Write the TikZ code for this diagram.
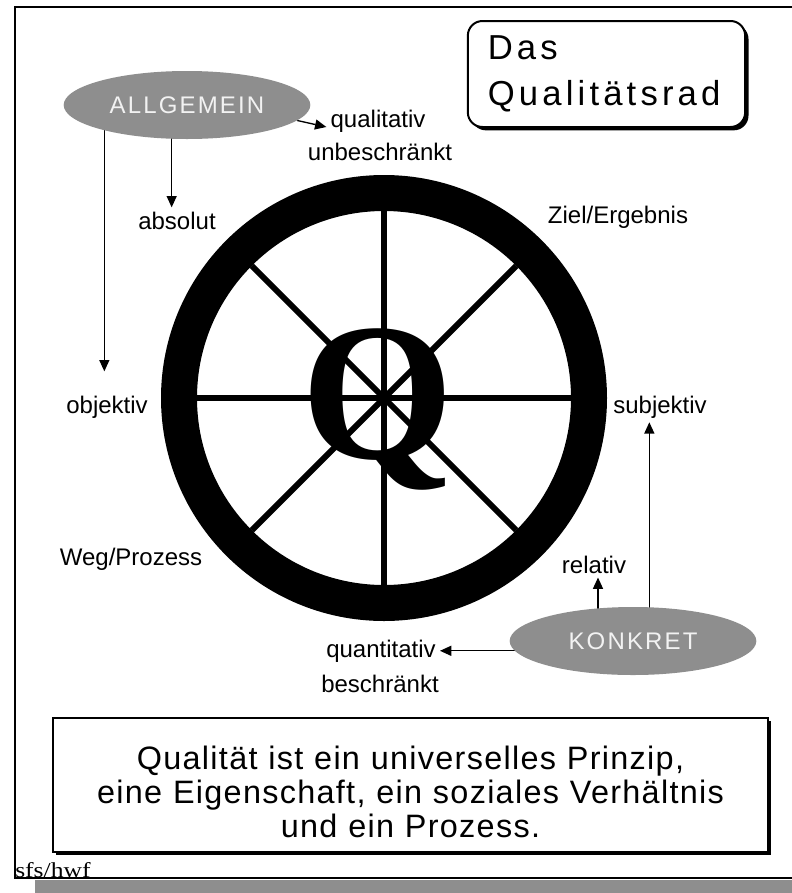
\documentclass[tikz,border=0pt]{standalone}
\usepackage{fontspec}
\setmainfont{Liberation Sans}
\newfontfamily\titlefont[LetterSpace=12]{Liberation Sans}
\newfontfamily\ovalfont[LetterSpace=9]{Liberation Sans}
\newfontfamily\notefont[LetterSpace=4]{Liberation Sans}
\newfontfamily\qfont{Liberation Serif}
\newfontfamily\sigfont[FakeStretch=1.2]{Liberation Serif}
\usepackage{tikz}
\usetikzlibrary{arrows.meta,shapes.geometric,shadows}
\definecolor{ovalgray}{HTML}{8E8E8E}
\pgfdeclarelayer{edgelayer}
\pgfsetlayers{edgelayer,main}

\begin{document}
\begin{tikzpicture}[x=0.75pt,y=-0.75pt,
lbl/.style={font=\fontsize{18}{21}\selectfont,inner sep=3pt,anchor=base},
oval/.style={ellipse,fill=ovalgray,text=white!95!black,inner sep=0pt,minimum width=185pt,minimum height=51pt,font=\ovalfont\fontsize{18}{21}\selectfont},
shbox/.style={draw,fill=white,drop shadow={shadow xshift=2.5pt,shadow yshift=-2.5pt,fill=black,opacity=1}}]
\useasboundingbox (0,0) rectangle (792,893);
% frame
\fill[ovalgray] (35,880) rectangle (800,900);
\draw[line width=1.5pt] (800,7) -- (15,7) -- (15,878) -- (800,878);
\node[anchor=base west,inner sep=0pt,font=\sigfont\fontsize{16}{18}\selectfont] (sig) at (15,877) {sfs/hwf};

% wheel
\coordinate (hub) at (384,398);
\draw[line width=27pt] (hub) circle[radius=153.75pt];
\foreach \a in {0,45,...,315}
  \draw[line width=4.5pt] (hub) -- ++(\a:140.25pt);
\node[font=\qfont\bfseries\fontsize{147}{147}\selectfont,inner sep=0pt,anchor=base] (Q) at (378,458) {Q};

% boxes
\node[shbox,rounded corners=11pt,line width=1.5pt,minimum width=207.75pt,minimum height=79.5pt,
  inner xsep=15pt,text width=178pt,align=left,font=\titlefont\fontsize{26}{35}\selectfont] (title) at (606.5,74) {Das\\Qualitätsrad};
\node[shbox,line width=0.8pt,minimum width=536.25pt,minimum height=100.5pt,text width=520pt,align=center,
  font=\notefont\fontsize{24.3}{25.5}\selectfont] (note) at (410.5,785)
  {\rule{0pt}{28pt}Qualität ist ein universelles Prinzip,\\eine Eigenschaft, ein soziales Verhältnis\\und ein Prozess.};

% ovals and labels
\node[oval] (allg) at (187,105) {ALLGEMEIN};
\node[oval] (konk) at (633,641) {KONKRET};
\node[lbl] (qual) at (378,127) {qualitativ};
\node[lbl] (unbes) at (380,160) {unbeschränkt};
\node[lbl] (absol) at (177,229) {absolut};
\node[lbl] (ziel) at (618,223) {Ziel/Ergebnis};
\node[lbl] (objek) at (107,413) {objektiv};
\node[lbl] (subj) at (660,413) {subjektiv};
\node[lbl] (weg) at (131,565) {Weg/Prozess};
\node[lbl] (relat) at (594,573) {relativ};
\node[lbl] (quant) at (381,657) {quantitativ};
\node[lbl] (besch) at (380,692) {beschränkt};

\begin{pgfonlayer}{edgelayer}
\path[->,line width=1pt,>={Triangle[length=8.5pt,width=7.5pt]}]
(allg.-8) edge (qual.base west)
([xshift=-4pt]absol.north |- allg.center) edge ([xshift=-4pt]absol.north)
([xshift=-2pt]objek.north |- allg.center) edge[shorten >=15pt] ([xshift=-2pt]objek.north)
([xshift=-8pt]subj.south |- konk.center) edge ([xshift=-8pt]subj.south)
([xshift=3pt]relat.south |- konk.center) edge ([xshift=3pt]relat.south)
(konk.center |- quant.east) edge (quant.east);
\end{pgfonlayer}
\end{tikzpicture}
\end{document}
